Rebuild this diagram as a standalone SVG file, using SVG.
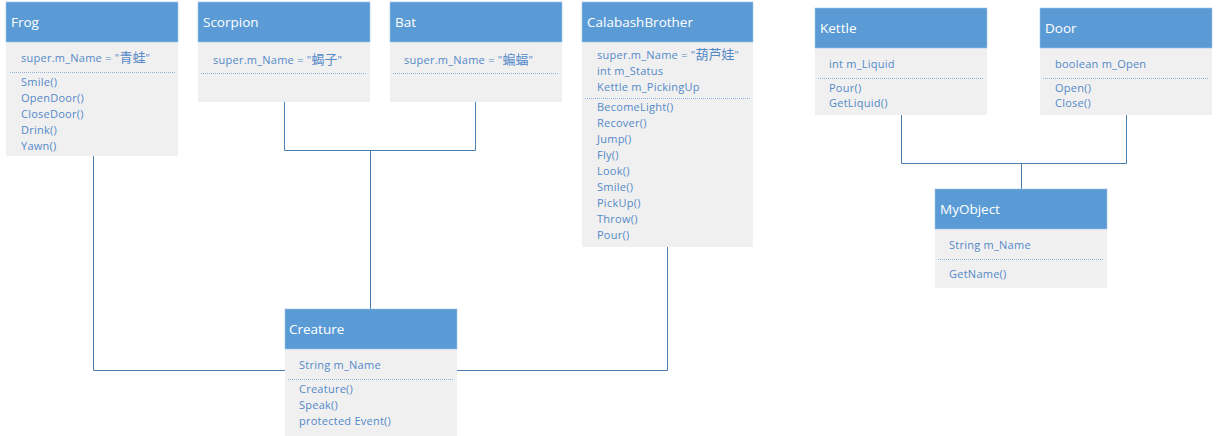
<svg xmlns="http://www.w3.org/2000/svg" width="1216" height="436" viewBox="0 0 1216 436">
<style>
.hd{fill:#5B9BD5;stroke:#9DC3E6;stroke-width:0.6}
.bd{fill:#F0F0F0}
.tt{font-family:"Open Sans","Noto Sans",sans-serif;font-size:13.5px;fill:#FFFFFF}
.tx{font-family:"Open Sans","Noto Sans","Noto Sans CJK SC",sans-serif;font-size:11px;letter-spacing:0.25px;fill:#5489C8}
.cjk{font-family:"Noto Sans CJK SC",sans-serif;font-size:13px;letter-spacing:0}
.sep{stroke:#8EB4DC;stroke-width:1;stroke-dasharray:1 1}
.cn{fill:none;stroke:#4A7EB0;stroke-width:1}
</style>
<rect width="1216" height="436" fill="#FFFFFF"/>
<g id="connectors">
<polyline class="cn" points="93.5,156 93.5,370.5 285,370.5"/>
<polyline class="cn" points="284.5,102 284.5,150.5 475.5,150.5 475.5,102"/>
<polyline class="cn" points="370.5,150.5 370.5,309"/>
<polyline class="cn" points="667.5,247 667.5,370.5 456,370.5"/>
<polyline class="cn" points="901.5,115 901.5,163.5 1126.5,163.5 1126.5,115"/>
<polyline class="cn" points="1021.5,163.5 1021.5,189"/>
</g>
<g id="Frog">
<rect class="bd" x="6" y="42" width="172" height="114"/>
<rect class="hd" x="6" y="2" width="172" height="40"/>
<text class="tt" x="11" y="27">Frog</text>
<text class="tx" x="21" y="62">super.m_Name = "<tspan class="cjk">青蛙</tspan>"</text>
<line class="sep" x1="10" y1="72.5" x2="175" y2="72.5"/>
<text class="tx" x="21" y="86">Smile()</text>
<text class="tx" x="21" y="102">OpenDoor()</text>
<text class="tx" x="21" y="118">CloseDoor()</text>
<text class="tx" x="21" y="134">Drink()</text>
<text class="tx" x="21" y="150">Yawn()</text>
</g>
<g id="Scorpion">
<rect class="bd" x="198" y="42" width="172" height="60"/>
<rect class="hd" x="198" y="2" width="172" height="40"/>
<text class="tt" x="203" y="27">Scorpion</text>
<text class="tx" x="213" y="64">super.m_Name = "<tspan class="cjk">蝎子</tspan>"</text>
<line class="sep" x1="201" y1="73.5" x2="366" y2="73.5"/>
</g>
<g id="Bat">
<rect class="bd" x="390" y="42" width="172" height="60"/>
<rect class="hd" x="390" y="2" width="172" height="40"/>
<text class="tt" x="395" y="27">Bat</text>
<text class="tx" x="404" y="64">super.m_Name = "<tspan class="cjk">蝙蝠</tspan>"</text>
<line class="sep" x1="393" y1="73.5" x2="558" y2="73.5"/>
</g>
<g id="CalabashBrother">
<rect class="bd" x="582" y="42" width="171" height="205"/>
<rect class="hd" x="582" y="2" width="171" height="40"/>
<text class="tt" x="587" y="27">CalabashBrother</text>
<text class="tx" x="597" y="59">super.m_Name = "<tspan class="cjk">葫芦娃</tspan>"</text>
<text class="tx" x="597" y="75">int m_Status</text>
<text class="tx" x="597" y="91">Kettle m_PickingUp</text>
<line class="sep" x1="585" y1="98.5" x2="750" y2="98.5"/>
<text class="tx" x="597" y="111">BecomeLight()</text>
<text class="tx" x="597" y="127">Recover()</text>
<text class="tx" x="597" y="143">Jump()</text>
<text class="tx" x="597" y="159">Fly()</text>
<text class="tx" x="597" y="175">Look()</text>
<text class="tx" x="597" y="191">Smile()</text>
<text class="tx" x="597" y="207">PickUp()</text>
<text class="tx" x="597" y="223">Throw()</text>
<text class="tx" x="597" y="239">Pour()</text>
</g>
<g id="Kettle">
<rect class="bd" x="815" y="48" width="172" height="67"/>
<rect class="hd" x="815" y="8" width="172" height="40"/>
<text class="tt" x="820" y="33">Kettle</text>
<text class="tx" x="829" y="68">int m_Liquid</text>
<line class="sep" x1="818" y1="78.5" x2="983" y2="78.5"/>
<text class="tx" x="829" y="92">Pour()</text>
<text class="tx" x="829" y="107">GetLiquid()</text>
</g>
<g id="Door">
<rect class="bd" x="1040" y="48" width="172" height="67"/>
<rect class="hd" x="1040" y="8" width="172" height="40"/>
<text class="tt" x="1045" y="33">Door</text>
<text class="tx" x="1055" y="68">boolean m_Open</text>
<line class="sep" x1="1043" y1="78.5" x2="1209" y2="78.5"/>
<text class="tx" x="1055" y="92">Open()</text>
<text class="tx" x="1055" y="107">Close()</text>
</g>
<g id="MyObject">
<rect class="bd" x="935" y="229" width="172" height="59"/>
<rect class="hd" x="935" y="189" width="172" height="40"/>
<text class="tt" x="940" y="214">MyObject</text>
<text class="tx" x="949" y="249">String m_Name</text>
<line class="sep" x1="938" y1="259.5" x2="1103" y2="259.5"/>
<text class="tx" x="949" y="278">GetName()</text>
</g>
<g id="Creature">
<rect class="bd" x="285" y="349" width="172" height="87"/>
<rect class="hd" x="285" y="309" width="172" height="40"/>
<text class="tt" x="289" y="334">Creature</text>
<text class="tx" x="299" y="369">String m_Name</text>
<line class="sep" x1="288" y1="379.5" x2="453" y2="379.5"/>
<text class="tx" x="299" y="393">Creature()</text>
<text class="tx" x="299" y="409">Speak()</text>
<text class="tx" x="299" y="425">protected Event()</text>
</g>
</svg>
